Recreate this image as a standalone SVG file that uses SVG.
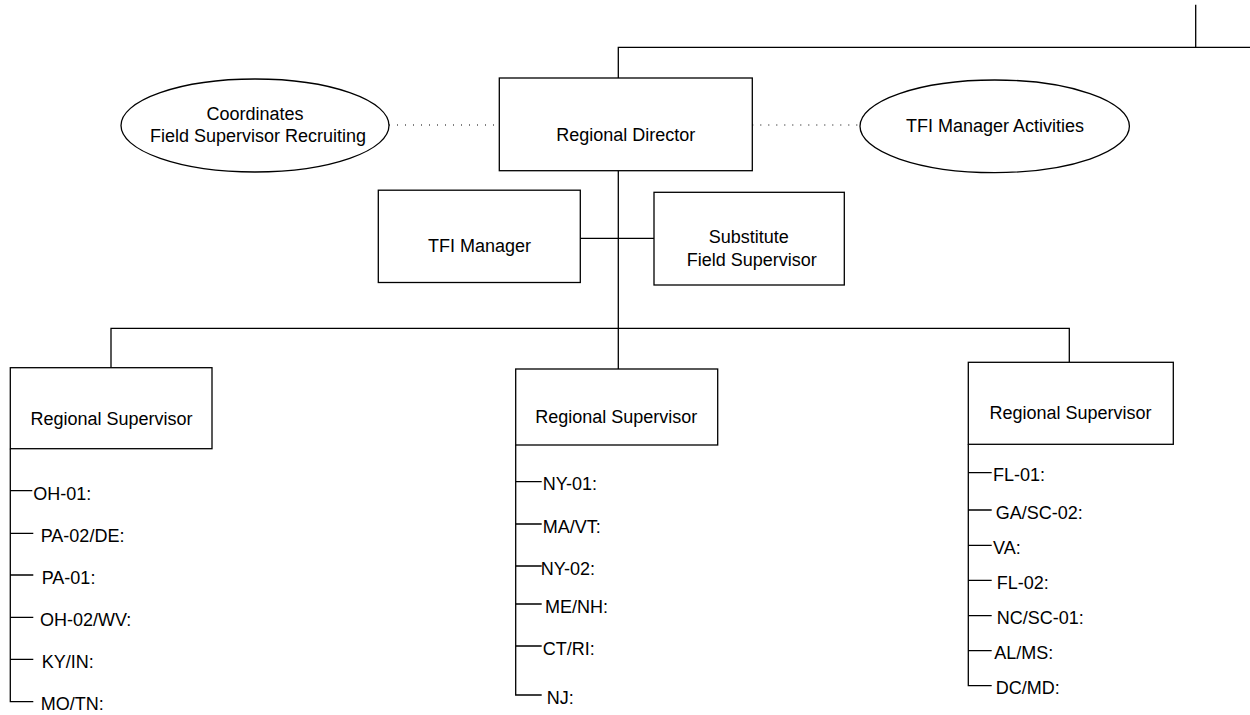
<svg xmlns="http://www.w3.org/2000/svg" width="1250" height="715" viewBox="0 0 1250 715">
<style>
  .box { fill: #ffffff; stroke: #000000; stroke-width: 1.3; }
  .line { fill: none; stroke: #000000; stroke-width: 1.3; }
  .dot { fill: none; stroke: #000000; stroke-width: 1; stroke-dasharray: 1 7; }
  text { font-family: "Liberation Sans", Arial, sans-serif; font-size: 18px; fill: #000000; }
  .c { text-anchor: middle; }
</style>
<rect x="0" y="0" width="1250" height="715" fill="#ffffff"/>
<g id="connectors">
  <path class="line" d="M618.3,78 V47.3 H1250 M1195.7,4.7 V47.3"/>
  <path class="line" d="M618.3,170.7 V369"/>
  <path class="line" d="M580.3,238.3 H654"/>
  <path class="line" d="M111,367.7 V328.3 H1069.3 V362.3"/>
  <path class="dot" d="M389,125 H499"/>
  <path class="dot" d="M752.3,125 H860"/>
  <!-- left list -->
  <path class="line" d="M10.3,448.7 V701.7 H33.3 M10.3,490.7 H32.3 M10.3,533.3 H33.3 M10.3,575 H33.3 M10.3,617.3 H33.3 M10.3,659.3 H33.3"/>
  <!-- middle list -->
  <path class="line" d="M515.7,445 V695 H541.7 M515.7,481.7 H541.7 M515.7,524 H541.7 M515.7,566 H541.7 M515.7,604 H541.7 M515.7,646 H541.7"/>
  <!-- right list -->
  <path class="line" d="M968.3,444.3 V685.7 H991.7 M968.3,472.7 H991.7 M968.3,510 H991.7 M968.3,545.3 H991.7 M968.3,580.3 H991.7 M968.3,615.7 H991.7 M968.3,650.7 H991.7"/>
</g>
<g id="coordinates-ellipse">
  <ellipse class="box" cx="255" cy="125.5" rx="134" ry="46.5"/>
  <text class="c" x="255" y="120">Coordinates</text>
  <text class="c" x="258" y="142.3">Field Supervisor Recruiting</text>
</g>
<g id="regional-director">
  <rect class="box" x="499.3" y="78" width="253" height="92.7"/>
  <text class="c" x="625.8" y="141">Regional Director</text>
</g>
<g id="tfi-activities-ellipse">
  <ellipse class="box" cx="994.7" cy="126.3" rx="134.7" ry="46.3"/>
  <text class="c" x="995" y="131.7">TFI Manager Activities</text>
</g>
<g id="tfi-manager">
  <rect class="box" x="378.3" y="190.2" width="202" height="92.3"/>
  <text class="c" x="479.5" y="252.3">TFI Manager</text>
</g>
<g id="substitute-field-supervisor">
  <rect class="box" x="654" y="192.3" width="190.3" height="92.7"/>
  <text class="c" x="748.7" y="243.3">Substitute</text>
  <text class="c" x="751.7" y="265.7">Field Supervisor</text>
</g>
<g id="regional-supervisor-left">
  <rect class="box" x="10.3" y="367.7" width="201.7" height="81"/>
  <text class="c" x="111.5" y="425.3">Regional Supervisor</text>
  <text x="33.3" y="499.5">OH-01:</text>
  <text x="40.7" y="542">PA-02/DE:</text>
  <text x="41.7" y="583.7">PA-01:</text>
  <text x="40" y="626">OH-02/WV:</text>
  <text x="41.7" y="668">KY/IN:</text>
  <text x="40.7" y="710.4">MO/TN:</text>
</g>
<g id="regional-supervisor-middle">
  <rect class="box" x="515.7" y="369" width="202" height="76"/>
  <text class="c" x="616.3" y="423.3">Regional Supervisor</text>
  <text x="542.7" y="490.4">NY-01:</text>
  <text x="542.7" y="532.7">MA/VT:</text>
  <text x="540.7" y="574.7">NY-02:</text>
  <text x="545" y="612.7">ME/NH:</text>
  <text x="542.7" y="654.7">CT/RI:</text>
  <text x="546.7" y="703.7">NJ:</text>
</g>
<g id="regional-supervisor-right">
  <rect class="box" x="968.3" y="362.3" width="205" height="82"/>
  <text class="c" x="1070.5" y="419">Regional Supervisor</text>
  <text x="993" y="481.4">FL-01:</text>
  <text x="995.7" y="518.7">GA/SC-02:</text>
  <text x="993" y="554">VA:</text>
  <text x="996.7" y="589">FL-02:</text>
  <text x="996.7" y="624.4">NC/SC-01:</text>
  <text x="994.3" y="659.4">AL/MS:</text>
  <text x="995.7" y="694.4">DC/MD:</text>
</g>
</svg>
